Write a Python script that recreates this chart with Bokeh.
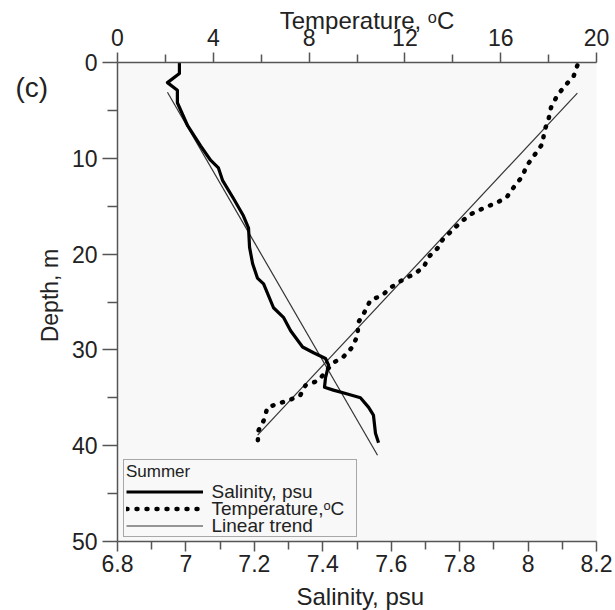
import math
from bokeh.plotting import figure
from bokeh.models import (Range1d, LinearAxis, Label, Legend, LegendItem,
                          FixedTicker, NumeralTickFormatter, BoxAnnotation)
from bokeh.core.properties import value
from bokeh.embed import file_html
from bokeh.resources import INLINE

# ---------------- data ----------------
sal_depth = [0.0, 1.15, 2.1, 2.9, 4.2, 6.6, 8.7, 10.2, 11.0, 12.3, 14.2, 16.0,
             17.3, 19.3, 21.0, 22.5, 23.1, 25.6, 26.6, 28.0, 29.7, 30.3, 30.9,
             31.6, 32.9, 33.9, 34.2, 34.6, 35.0, 36.0, 36.8, 38.7, 39.7]
sal_values = [6.981, 6.981, 6.946, 6.975, 6.975, 7.005, 7.043, 7.072, 7.095,
              7.107, 7.139, 7.168, 7.183, 7.186, 7.195, 7.209, 7.227, 7.256,
              7.285, 7.306, 7.341, 7.373, 7.408, 7.417, 7.408, 7.405, 7.431,
              7.472, 7.510, 7.534, 7.548, 7.554, 7.563]

temp_depth = [0.3, 1.4, 2.4, 3.4, 4.7, 5.9, 7.1, 8.5, 9.7, 10.8, 11.9, 12.9,
              14.1, 14.7, 15.2, 15.8, 16.6, 17.5, 18.4, 19.4, 20.3, 21.4, 22.1,
              22.7, 23.5, 24.3, 24.8, 25.9, 27.1, 28.5, 29.7, 30.7, 31.4, 33.2,
              33.7, 34.7, 35.2, 35.6, 36.0, 37.4, 38.4, 39.8]
temp_values = [19.2, 19.05, 18.7, 18.37, 18.1, 18.0, 17.83, 17.74, 17.4, 17.08,
               16.9, 16.58, 16.24, 15.78, 15.28, 14.78, 14.36, 13.99, 13.6,
               13.36, 12.99, 12.78, 12.36, 11.9, 11.4, 11.06, 10.56, 10.35,
               10.06, 10.02, 9.81, 9.44, 8.98, 8.39, 7.85, 7.64, 7.22, 6.72,
               6.26, 6.1, 5.89, 5.85]

sal_trend_depth = [3.1, 41.0]
sal_trend_values = [6.946, 7.560]
temp_trend_depth = [3.2, 38.9]
temp_trend_values = [19.2, 5.85]

sal_ticks = [6.8, 7.0, 7.2, 7.4, 7.6, 7.8, 8.0, 8.2]
sal_minor = [6.9, 7.1, 7.3, 7.5, 7.7, 7.9, 8.1]
temp_ticks = [0, 4, 8, 12, 16, 20]
temp_minor = [2, 6, 10, 14, 18]
depth_ticks = [0, 10, 20, 30, 40, 50]
depth_minor = [5, 15, 25, 35, 45]

legend_title = "Summer"
legend_labels = ["Salinity, psu", "Temperature,\u1d52C", "Linear trend"]

FONT = "Liberation Sans"
AX = "#555555"
TXT = "#222222"

p = figure(frame_width=479, frame_height=479,
           min_border_left=117, min_border_right=19,
           min_border_top=62, min_border_bottom=69,
           x_range=Range1d(6.8, 8.2), y_range=Range1d(50, 0),
           extra_x_ranges={"temp": Range1d(0, 20)},
           output_backend="svg", toolbar_location=None)
p.background_fill_color = "#f8f8f8"
p.border_fill_color = "white"
p.outline_line_color = None
p.grid.visible = False

bottom_axis = p.below[0]
left_axis = p.left[0]
top_axis = LinearAxis(x_range_name="temp")
p.add_layout(top_axis, "above")

bottom_axis.ticker = FixedTicker(ticks=sal_ticks, minor_ticks=sal_minor)
bottom_axis.formatter = NumeralTickFormatter(format="0.[0]")
top_axis.ticker = FixedTicker(ticks=temp_ticks, minor_ticks=temp_minor)
left_axis.ticker = FixedTicker(ticks=depth_ticks, minor_ticks=depth_minor)

for ax in [bottom_axis, top_axis, left_axis]:
    ax.axis_line_color = AX
    ax.axis_line_width = 1.5
    ax.major_tick_line_color = AX
    ax.major_tick_line_width = 1.5
    ax.minor_tick_line_color = AX
    ax.minor_tick_line_width = 1.5
    ax.major_tick_in = 0
    ax.minor_tick_in = 0
    ax.major_tick_out = 10
    ax.minor_tick_out = 8
    ax.major_label_text_font = FONT
    ax.major_label_text_font_size = "23px"
    ax.major_label_text_color = TXT
    ax.axis_label_text_font = FONT
    ax.axis_label_text_font_size = "24px"
    ax.axis_label_text_font_style = "normal"
    ax.axis_label_text_color = TXT
left_axis.major_tick_out = 15
left_axis.minor_tick_out = 10
left_axis.major_label_standoff = 5
bottom_axis.major_label_standoff = 3
top_axis.major_label_standoff = 7

top_axis.axis_label = "\u00a0\u00a0\u00a0Temperature, \u1d52C"
top_axis.axis_label_standoff = -8
bottom_axis.axis_label = "\u00a0Salinity, psu"
bottom_axis.axis_label_standoff = 8
left_axis.axis_label = "\u00a0\u00a0Depth, m"
left_axis.axis_label_text_font_size = "23px"
left_axis.axis_label_standoff = 6

# ---------------- curves ----------------
r_tr1 = p.line(sal_trend_values, sal_trend_depth, line_color="#333333", line_width=1.2)
r_tr2 = p.line(temp_trend_values, temp_trend_depth, line_color="#333333", line_width=1.2,
               x_range_name="temp")
r_sal = p.line(sal_values, sal_depth, line_color="black", line_width=3.2,
               line_join="round")
r_temp = p.line(temp_values, temp_depth, line_color="black", line_width=4.5,
                line_dash="1 9", line_cap="round", x_range_name="temp")

# ---------------- legend (box, title, glyph samples) ----------------
legend = Legend(items=[LegendItem(label=" ", renderers=[r]) for r in (r_sal, r_temp, r_tr1)],
                title=legend_title, location=(6, 4))
legend.title_text_font = FONT
legend.title_text_font_size = "17px"
legend.title_text_font_style = "normal"
legend.title_text_color = TXT
legend.title_standoff = 1
legend.label_text_font_size = "2px"
legend.label_height = 17
legend.label_width = 145
legend.glyph_height = 17
legend.glyph_width = 77
legend.label_standoff = 6
legend.spacing = 0
legend.padding = 2
legend.margin = 0
legend.border_line_color = AX
legend.border_line_width = 1.5
legend.background_fill_alpha = 0.0
p.add_layout(legend)

def sx(px):
    return 6.8 + (px - 117) / 342.1

def dy(py):
    return (py - 62) / 9.58

# legend entry texts, drawn beside the samples
p.text(x=[sx(211)] * len(legend_labels), y=[dy(491), dy(508), dy(524.5)],
       text=legend_labels, text_align="left", text_baseline="middle",
       text_font=value(FONT), text_font_size=value("19px"), text_color=TXT)

# ---------------- panel label and rule in the margins ----------------
p.add_layout(Label(x=sx(15), y=dy(87), text="(c)",
                   text_align="left", text_baseline="middle",
                   text_font=FONT, text_font_size="28px", text_color=TXT), "left")

p.add_layout(BoxAnnotation(left=sx(12), right=sx(620), top=dy(6), bottom=dy(8),
                           fill_color="#9a9a9a", fill_alpha=1.0, line_color=None),
             "above")

open("out.html", "w").write(file_html(p, INLINE))
